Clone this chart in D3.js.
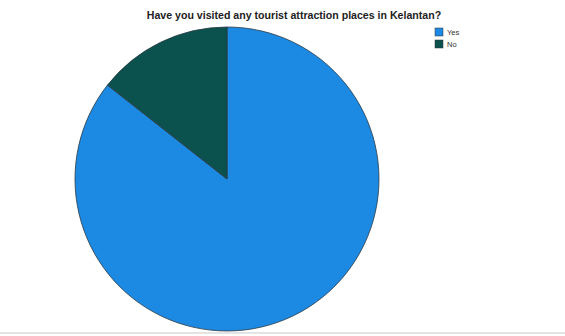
<!DOCTYPE html>
<html><head><meta charset="utf-8">
<script src="https://cdn.jsdelivr.net/npm/d3@7"></script>
<style>body{margin:0;background:#fff}svg{display:block}</style>
</head><body>
<script>
const categories = ["Yes", "No"];
const values = [85.6, 14.4];
const colors = ["#1c89e3", "#0b524e"];
const title = "Have you visited any tourist attraction places in Kelantan?";

const W = 565, H = 336;
const svg = d3.select("body").append("svg").attr("width", W).attr("height", H);

const cx = 227, cy = 179, r = 152;
const data = categories.map((c, i) => ({cat: c, v: values[i]}));
const pie = d3.pie().value(d => d.v).sort(null);
const arcs = pie(data);
const arc = d3.arc().innerRadius(0).outerRadius(r);
const color = d3.scaleOrdinal().domain(categories).range(colors);

svg.append("g").attr("transform", `translate(${cx},${cy})`)
  .selectAll("path").data(arcs).join("path")
  .attr("d", arc)
  .attr("fill", d => color(d.data.cat))
  .attr("stroke", "#2a3a44").attr("stroke-width", 0.8);

svg.append("text").attr("x", 294).attr("y", 19)
  .attr("text-anchor", "middle")
  .style("font-family", "Liberation Sans, Arial, sans-serif")
  .style("font-weight", "bold").style("font-size", "10.6px").attr("fill", "#222")
  .text(title);

const lg = svg.append("g").attr("transform", "translate(435,28)");
categories.forEach((c, i) => {
  const g = lg.append("g").attr("transform", `translate(0,${i * 12})`);
  g.append("rect").attr("width", 8).attr("height", 8).attr("fill", color(c))
    .attr("stroke", "#333").attr("stroke-width", 0.5);
  g.append("text").attr("x", 12).attr("y", 7)
    .style("font-family", "Liberation Sans, Arial, sans-serif")
    .style("font-size", "7.5px").attr("fill", "#333").text(c);
});

svg.append("line").attr("x1", 0).attr("x2", W).attr("y1", 333).attr("y2", 333)
  .attr("stroke", "#e4e4e4").attr("stroke-width", 2);
</script>
</body></html>
